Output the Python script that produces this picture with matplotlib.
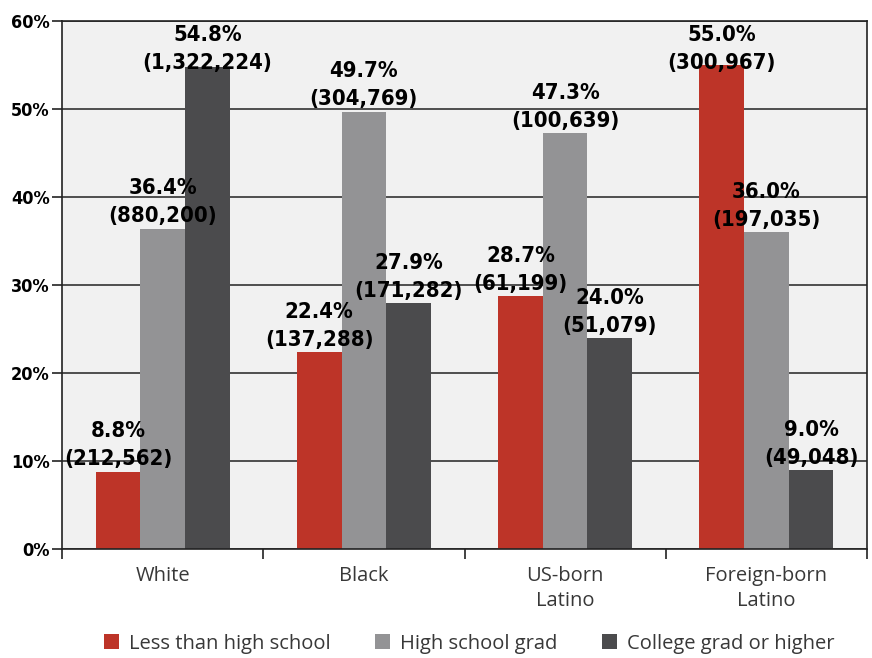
import numpy as np
import matplotlib.pyplot as plt
from matplotlib import font_manager
from matplotlib.patches import Patch

groups = ["White", "Black", "US-born\nLatino", "Foreign-born\nLatino"]
series = ["Less than high school", "High school grad", "College grad or higher"]
pct = [
    [8.8, 22.4, 28.7, 55.0],
    [36.4, 49.7, 47.3, 36.0],
    [54.8, 27.9, 24.0, 9.0],
]
counts = [
    ["212,562", "137,288", "61,199", "300,967"],
    ["880,200", "304,769", "100,639", "197,035"],
    ["1,322,224", "171,282", "51,079", "49,048"],
]
colors = ["#bd3428", "#939395", "#4b4b4d"]

# look for a condensed bold face (labels in the original are condensed bold)
cond_path = None
files = font_manager.findSystemFonts()
for want in ["LiberationSansNarrow-Bold.ttf", "DejaVuSansCondensed-Bold.ttf"]:
    hits = [f for f in files if f.endswith(want)]
    if hits:
        cond_path = hits[0]
        break


def cond(size):
    if cond_path:
        return font_manager.FontProperties(fname=cond_path, size=size)
    return font_manager.FontProperties(family="DejaVu Sans", weight="bold", size=size * 0.85)


fig = plt.figure(figsize=(8.72, 6.58), dpi=100)
ax = fig.add_axes([62 / 872, (658 - 549) / 658, (867 - 62) / 872, (549 - 21) / 658])
ax.set_facecolor("#f1f1f1")

x = np.arange(len(groups))
w = 0.222
for i in range(3):
    xs = x + (i - 1) * w
    ax.bar(xs, pct[i], w, color=colors[i], zorder=2)
    for xi, v, c in zip(xs, pct[i], counts[i]):
        y = min(v + 0.25, 54.1)
        ax.text(xi, y, "%.1f%%\n(%s)" % (v, c), ha="center", va="bottom",
                linespacing=1.5, zorder=3, fontproperties=cond(15.8))

ax.set_xlim(-0.5, 3.5)
ax.set_ylim(0, 60)
ax.set_yticks(np.arange(0, 61, 10))
ax.set_yticklabels(["%d%%" % t for t in range(0, 61, 10)], fontproperties=cond(13))
ax.yaxis.grid(True, color="#333333", linewidth=1.2, zorder=1)
ax.set_axisbelow(True)

ax.set_xticks(np.arange(-0.5, 4, 1))
ax.set_xticklabels([])
ax.set_xticks(x, minor=True)
ax.set_xticklabels(groups, minor=True, family="Open Sans", size=14.5, color="#383838",
                   linespacing=1.35)
ax.tick_params(axis="x", which="minor", length=0, pad=12)
ax.tick_params(axis="x", which="major", length=7, width=1.2, color="#222222")
ax.tick_params(axis="y", length=7, width=1.2, color="#222222", pad=2)

for s in ax.spines.values():
    s.set_color("#222222")
    s.set_linewidth(1.2)

handles = [Patch(facecolor=c, edgecolor="none") for c in colors]
fig.legend(handles, series, loc="center", bbox_to_anchor=(0.538, 0.022), ncol=3, frameon=False,
           handlelength=0.75, handleheight=0.75, handletextpad=0.5, columnspacing=2.2,
           prop=dict(family="Open Sans", size=14.5))
for t in fig.legends[0].get_texts():
    t.set_color("#383838")

fig.savefig("out.png", dpi=100)
